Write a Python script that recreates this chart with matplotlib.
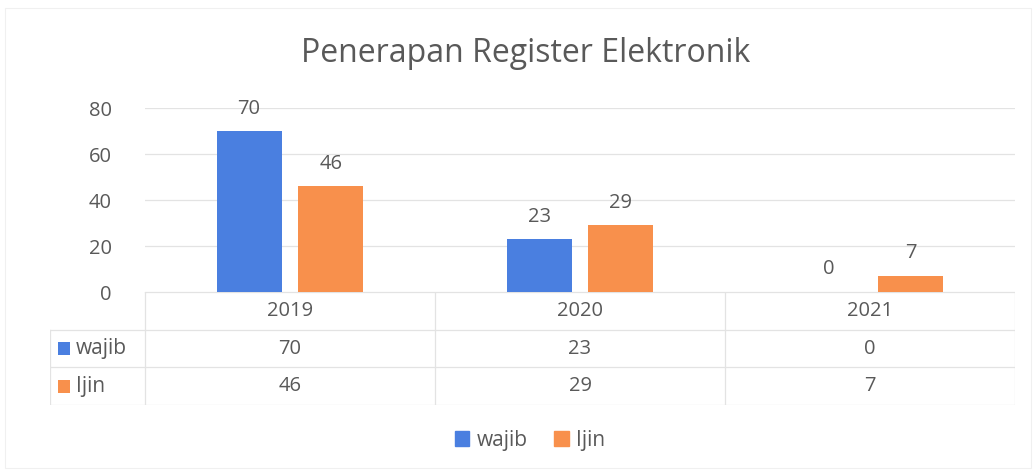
import matplotlib.pyplot as plt
from matplotlib.patches import Rectangle

years = ['2019', '2020', '2021']
series_names = ['wajib', 'Ijin']
wajib = [70, 23, 0]
ijin = [46, 29, 7]
colors = ['#4a7fe0', '#f8904c']
text_color = '#595959'
grid_color = '#e3e3e3'

plt.rcParams['font.family'] = ['Open Sans', 'DejaVu Sans']

W, H = 1036, 473
fig = plt.figure(figsize=(W / 100, H / 100), dpi=100)

# pixel helpers
def fx(px):
    return px / W

def fy(py):
    return 1 - py / H

# faint outer frame of the chart
fig.patches.append(Rectangle((fx(5), fy(468)), fx(1026), 1 - 13 / H, transform=fig.transFigure,
                             fill=False, edgecolor='#f0f0f0', lw=0.8))

# main bar axes
ax = fig.add_axes([fx(145), fy(292), fx(870), fy(108) - fy(292)])
x = list(range(len(years)))
bw = 0.224
off = 0.141
b1 = ax.bar([i - off for i in x], wajib, bw, color=colors[0])
b2 = ax.bar([i + off for i in x], ijin, bw, color=colors[1])
for bars, vals in [(b1, wajib), (b2, ijin)]:
    for b, v in zip(bars, vals):
        ax.annotate(str(v), (b.get_x() + b.get_width() / 2, v), xytext=(0, 9),
                    textcoords='offset points', ha='center', va='bottom',
                    fontsize=14.5, color=text_color)
ax.set_xlim(-0.5, 2.5)
ax.set_ylim(0, 80)
ax.set_yticks([0, 20, 40, 60, 80])
ax.set_xticks([])
ax.tick_params(axis='y', length=0, pad=24, labelsize=14.5, labelcolor=text_color)
for s in ax.spines.values():
    s.set_visible(False)
ax.grid(axis='y', color=grid_color, lw=0.9)
ax.set_axisbelow(True)

# data table under the plot
tab = fig.add_axes([fx(50), fy(405), fx(965), fy(292) - fy(405)])
lab_w = 95 / 290
left = -0.5 - lab_w
tab.set_xlim(left, 2.5)
tab.set_ylim(3, 0)
tab.axis('off')
line_kw = dict(color=grid_color, lw=0.9)
# horizontal lines
tab.plot([-0.5, 2.5], [0, 0], **line_kw)
for yy in [1, 2, 3]:
    tab.plot([left, 2.5], [yy, yy], **line_kw)
# vertical lines
tab.plot([left, left], [1, 3], **line_kw)
for xx in [-0.5, 0.5, 1.5, 2.5]:
    tab.plot([xx, xx], [0, 3], **line_kw)
for i, yr in enumerate(years):
    tab.text(i, 0.5, yr, ha='center', va='center', fontsize=14.5, color=text_color)
for r, (name, vals) in enumerate(zip(series_names, [wajib, ijin])):
    yc = r + 1.5
    tab.add_patch(Rectangle((left + 0.028, yc - 0.17), 0.042, 0.34, color=colors[r], lw=0))
    tab.text(left + 0.09, yc, name, ha='left', va='center', fontsize=15, color=text_color)
    for i, v in enumerate(vals):
        tab.text(i, yc, str(v), ha='center', va='center', fontsize=14.5, color=text_color)

# title
fig.text(fx(526), fy(54), 'Penerapan Register Elektronik', ha='center', va='center',
         fontsize=23, color=text_color)

# legend
handles = [Rectangle((0, 0), 1, 1, color=c) for c in colors]
fig.legend(handles, series_names, loc='center', bbox_to_anchor=(fx(530), fy(440)), ncol=2,
           frameon=False, fontsize=15, handlelength=0.7, handleheight=0.7,
           handletextpad=0.35, columnspacing=1.3, labelcolor=text_color)

fig.savefig('out.png', dpi=100, facecolor='white')
